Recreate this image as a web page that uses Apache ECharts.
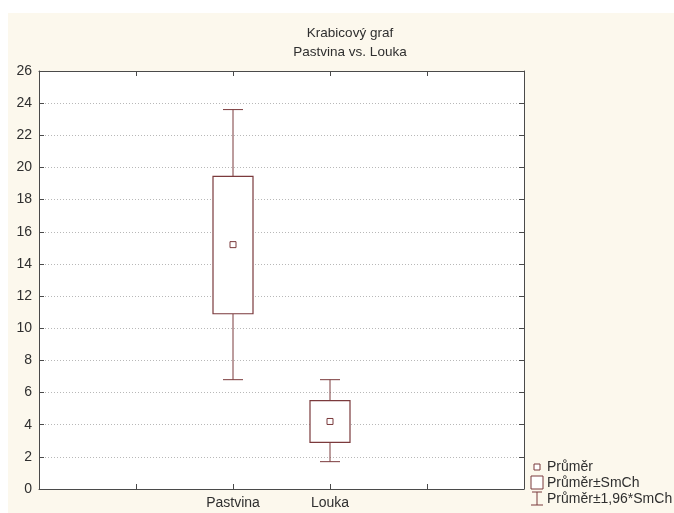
<!DOCTYPE html>
<html>
<head>
<meta charset="utf-8">
<script src="https://cdn.jsdelivr.net/npm/echarts@6/dist/echarts.min.js"></script>
<style>
  html, body { margin: 0; padding: 0; background: #ffffff; }
  #chart { width: 674px; height: 513px; }
</style>
</head>
<body>
<div id="chart"></div>
<script>
// Group names and per-group statistics
var categories = ['Pastvina', 'Louka'];
var means = [15.2, 4.2];
var seLow = [10.9, 2.9];      // mean - SE
var seHigh = [19.45, 5.5];    // mean + SE
var ciLow = [6.8, 1.7];       // mean - 1.96*SE
var ciHigh = [23.6, 6.8];     // mean + 1.96*SE
var yTicks = [0, 2, 4, 6, 8, 10, 12, 14, 16, 18, 20, 22, 24, 26];
var legendNames = ['Průměr', 'Průměr±SmCh', 'Průměr±1,96*SmCh'];

// categories sit on slots 2 and 3 of a 0..5 axis
var slotOffset = 2;
var lineColor = '#7b3a3c';
var axisColor = '#4a4a4a';
var textColor = '#2f2f2f';
var font = 'Liberation Sans, Arial, sans-serif';

var rows = categories.map(function (c, i) {
  return [i + slotOffset, ciLow[i], seLow[i], means[i], seHigh[i], ciHigh[i]];
});

function whiskerItem(params, api) {
  var x = api.value(0);
  var lo = api.coord([x, api.value(1)]);
  var bLo = api.coord([x, api.value(2)]);
  var bHi = api.coord([x, api.value(4)]);
  var hi = api.coord([x, api.value(5)]);
  var cap = 10;
  var st = { stroke: lineColor, lineWidth: 1, fill: null };
  return {
    type: 'group',
    children: [
      { type: 'line', shape: { x1: lo[0], y1: lo[1], x2: bLo[0], y2: bLo[1] }, style: st },
      { type: 'line', shape: { x1: bHi[0], y1: bHi[1], x2: hi[0], y2: hi[1] }, style: st },
      { type: 'line', shape: { x1: lo[0] - cap, y1: lo[1], x2: lo[0] + cap, y2: lo[1] }, style: st },
      { type: 'line', shape: { x1: hi[0] - cap, y1: hi[1], x2: hi[0] + cap, y2: hi[1] }, style: st }
    ]
  };
}

function boxItem(params, api) {
  var x = api.value(0);
  var bLo = api.coord([x, api.value(2)]);
  var bHi = api.coord([x, api.value(4)]);
  var half = 20;
  return {
    type: 'rect',
    shape: { x: bHi[0] - half, y: bHi[1], width: half * 2, height: bLo[1] - bHi[1] },
    style: { stroke: lineColor, lineWidth: 1.2, fill: '#ffffff' }
  };
}

function meanItem(params, api) {
  var x = api.value(0);
  var m = api.coord([x, api.value(3)]);
  var s = 3;
  return {
    type: 'rect',
    shape: { x: m[0] - s, y: m[1] - s, width: s * 2, height: s * 2 },
    style: { stroke: lineColor, lineWidth: 1, fill: '#ffffff' }
  };
}

var chart = echarts.init(document.getElementById('chart'), null, { renderer: 'canvas' });

var axisLine = { show: true, onZero: false, lineStyle: { color: axisColor, width: 1 } };
var tickIn = { show: true, inside: true, length: 5, lineStyle: { color: axisColor } };
var legendText = { font: '14px ' + font, fill: textColor, verticalAlign: 'middle' };

chart.setOption({
  animation: false,
  backgroundColor: '#ffffff',
  graphic: [
    { type: 'rect', z: -10, shape: { x: 8, y: 13, width: 666, height: 500 }, style: { fill: '#fcf8ed' } },
    { type: 'rect', z: -9, shape: { x: 39, y: 71, width: 485, height: 418 }, style: { fill: '#ffffff' } },
    // legend key
    { type: 'rect', shape: { x: 534, y: 464, width: 6, height: 6 }, style: { stroke: lineColor, fill: '#ffffff', lineWidth: 1 } },
    { type: 'text', x: 547, y: 467, style: Object.assign({ text: legendNames[0] }, legendText) },
    { type: 'rect', shape: { x: 531, y: 476, width: 12, height: 13 }, style: { stroke: lineColor, fill: '#ffffff', lineWidth: 1 } },
    { type: 'text', x: 547, y: 483, style: Object.assign({ text: legendNames[1] }, legendText) },
    { type: 'line', shape: { x1: 537, y1: 492, x2: 537, y2: 505 }, style: { stroke: lineColor, lineWidth: 1 } },
    { type: 'line', shape: { x1: 532, y1: 492, x2: 542, y2: 492 }, style: { stroke: lineColor, lineWidth: 1 } },
    { type: 'line', shape: { x1: 531, y1: 505, x2: 543, y2: 505 }, style: { stroke: lineColor, lineWidth: 1 } },
    { type: 'text', x: 547, y: 499, style: Object.assign({ text: legendNames[2] }, legendText) }
  ],
  title: {
    text: 'Krabicový graf\nPastvina vs. Louka',
    left: 345,
    textAlign: 'center',
    top: 19,
    textStyle: { fontFamily: font, fontSize: 13.5, fontWeight: 'normal', color: textColor, lineHeight: 19 }
  },
  grid: { left: 39, right: 150, top: 71, bottom: 24, containLabel: false },
  xAxis: [
    {
      type: 'value', min: 0, max: 5, interval: 1, position: 'bottom',
      axisLine: axisLine, axisTick: tickIn, splitLine: { show: false },
      axisLabel: {
        margin: 7, fontFamily: font, fontSize: 14, color: textColor,
        formatter: function (v) {
          var i = v - slotOffset;
          return (i >= 0 && i < categories.length) ? categories[i] : '';
        }
      }
    },
    {
      type: 'value', min: 0, max: 5, interval: 1, position: 'top',
      axisLine: axisLine, axisTick: tickIn, splitLine: { show: false }, axisLabel: { show: false }
    }
  ],
  yAxis: [
    {
      type: 'value', min: yTicks[0], max: yTicks[yTicks.length - 1], interval: yTicks[1] - yTicks[0],
      position: 'left',
      axisLine: axisLine, axisTick: tickIn,
      axisLabel: { margin: 7, fontFamily: font, fontSize: 14, color: textColor },
      splitLine: { show: true, lineStyle: { color: '#b8b8b8', type: [1, 2], width: 1 } }
    },
    {
      type: 'value', min: yTicks[0], max: yTicks[yTicks.length - 1], interval: yTicks[1] - yTicks[0],
      position: 'right',
      axisLine: axisLine, axisTick: tickIn, axisLabel: { show: false }, splitLine: { show: false }
    }
  ],
  series: [
    { name: legendNames[2], type: 'custom', renderItem: whiskerItem, data: rows, encode: { x: 0, y: [1, 5] }, z: 2 },
    { name: legendNames[1], type: 'custom', renderItem: boxItem, data: rows, encode: { x: 0, y: [2, 4] }, z: 3 },
    { name: legendNames[0], type: 'custom', renderItem: meanItem, data: rows, encode: { x: 0, y: 3 }, z: 4 }
  ]
});
</script>
</body>
</html>
